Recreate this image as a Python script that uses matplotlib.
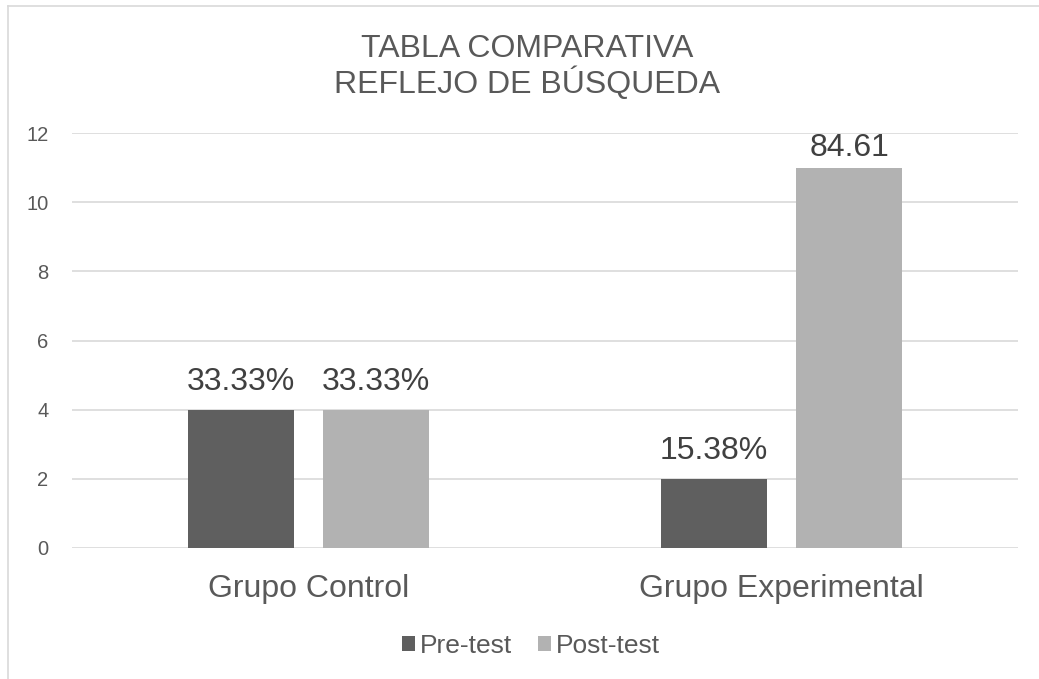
import matplotlib.pyplot as plt
import numpy as np

plt.rcParams["font.family"] = ["Liberation Sans", "DejaVu Sans"]

categories = ["Grupo Control", "Grupo Experimental"]
series_names = ["Pre-test", "Post-test"]
pre_values = [4, 2]
post_values = [4, 11]
pre_labels = ["33.33%", "15.38%"]
post_labels = ["33.33%", "84.61"]
y_ticks = [0, 2, 4, 6, 8, 10, 12]

PRE_COLOR = "#5f5f5f"
POST_COLOR = "#b2b2b2"
TEXT_COLOR = "#595959"
GRID_COLOR = "#d9d9d9"

fig = plt.figure(figsize=(10.39, 6.79), dpi=100)
ax = fig.add_axes([0.0693, 0.193, 0.9107, 0.611])

x = np.arange(len(categories))
width = 0.224
offset = 0.143
y_max = y_ticks[-1]

bars_pre = ax.bar(x - offset, pre_values, width, color=PRE_COLOR, label=series_names[0], zorder=3)
bars_post = ax.bar(x + offset, post_values, width, color=POST_COLOR, label=series_names[1], zorder=3)

for bars, labels in ((bars_pre, pre_labels), (bars_post, post_labels)):
    for b, lab in zip(bars, labels):
        h = b.get_height()
        # labels near the top of the plot area get pushed closer to the bar
        dy = 9 if h < y_max - 2 else 3
        ax.annotate(lab, (b.get_x() + b.get_width() / 2, h),
                    xytext=(0, dy), textcoords="offset points",
                    ha="center", va="bottom", fontsize=23, color="#404040")

ax.set_xlim(-0.5, 1.5)
ax.set_ylim(0, y_max)
ax.set_yticks(y_ticks)
ax.set_xticks(x)
ax.set_xticklabels(categories, fontsize=23, color=TEXT_COLOR)
ax.tick_params(axis="x", length=0, pad=18.5)
ax.tick_params(axis="y", length=0, labelsize=14.5, labelcolor=TEXT_COLOR, pad=17)
ax.yaxis.grid(True, color=GRID_COLOR, linewidth=1.2, zorder=0)
for s in ax.spines.values():
    s.set_visible(False)

fig.text(0.507, 0.901, "TABLA COMPARATIVA\nREFLEJO DE BÚSQUEDA", ha="center", va="center",
         fontsize=23, color=TEXT_COLOR, linespacing=1.08)

fig.legend(loc="center", bbox_to_anchor=(0.511, 0.049), ncol=2, frameon=False,
           fontsize=19, labelcolor=TEXT_COLOR, handlelength=0.5, handleheight=0.5,
           handletextpad=0.2, columnspacing=0.95)

# chart border (only left and top visible in the reference crop)
fig.add_artist(plt.Line2D([0.0077, 0.0077], [0, 0.991], transform=fig.transFigure,
                          color=GRID_COLOR, linewidth=1.2))
fig.add_artist(plt.Line2D([0.0077, 1.0], [0.991, 0.991], transform=fig.transFigure,
                          color=GRID_COLOR, linewidth=1.2))

fig.savefig("out.png", dpi=100)
